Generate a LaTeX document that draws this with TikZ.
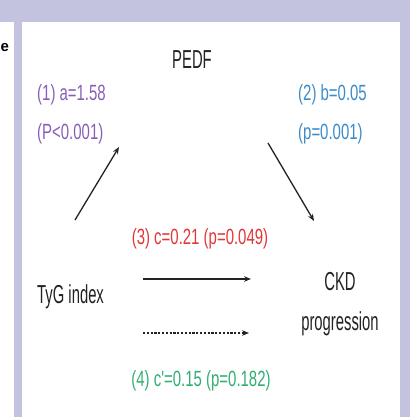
\documentclass[tikz,border=0pt]{standalone}
\usepackage{fontspec}
\setmainfont{Liberation Sans}
\newfontfamily\blkfont[FakeStretch=0.57]{Liberation Sans}
\newfontfamily\clrfont[FakeStretch=0.68]{Liberation Sans}
\usetikzlibrary{arrows.meta}
\definecolor{lav}{RGB}{195,195,224}
\definecolor{purp}{RGB}{135,95,185}
\definecolor{blu}{RGB}{60,140,200}
\definecolor{redc}{RGB}{225,55,55}
\definecolor{grn}{RGB}{50,175,115}
\definecolor{ink}{RGB}{35,35,35}
\tikzset{
  blk/.style={inner sep=0pt, text=ink, font=\blkfont\fontsize{26}{40}\selectfont},
  clr/.style={inner sep=0pt, font=\clrfont\fontsize{22}{39}\selectfont},
  arr/.style={draw=ink, line width=1.3pt, -{Stealth[length=7pt,width=5.5pt]}},
  darr/.style={arr, dash pattern=on 2.2pt off 1.6pt}
}
\begin{document}
\begin{tikzpicture}[x=1pt,y=-1pt]
\useasboundingbox (0,0) rectangle (410,417);
% background
\fill[lav] (0,0) rectangle (410,417);
\fill[white] (0,22) rectangle (14,417);
\fill[white] (22,22) rectangle (400,417);
\node[anchor=base west, inner sep=0pt, font=\bfseries\fontsize{15}{18}\selectfont] (cut) at (0.5,52) {e};
% labels
\node[blk, anchor=base] (pedf) at (192,69) {PEDF};
\node[blk, anchor=base west] (tyg) at (37,303) {TyG index};
\node[blk, align=center] (ckd) at (340,304.5) {CKD\\progression};
\node[clr, text=purp, align=left, anchor=west] (la) at (37,114) {(1) a=1.58\\(P<0.001)};
\node[clr, text=blu, align=left, anchor=west] (lb) at (298,114) {(2) b=0.05\\(p=0.001)};
\node[clr, text=redc, anchor=base] (lc) at (200,244) {(3) c=0.21 (p=0.049)};
\node[clr, text=grn, anchor=base] (ld) at (201,386) {(4) c'=0.15 (p=0.182)};
% arrows
\coordinate (a1) at (75,220); \coordinate (a2) at (119,147);
\coordinate (b1) at (268,143); \coordinate (b2) at (314,221);
\coordinate (c1) at (143,279); \coordinate (c2) at (251,279);
\coordinate (d1) at (143,333); \coordinate (d2) at (249,333);
\draw[arr] (a1) -- (a2);
\draw[arr] (b1) -- (b2);
\draw[arr] (c1) -- (c2);
\draw[darr] (d1) -- (d2);
\end{tikzpicture}
\end{document}
